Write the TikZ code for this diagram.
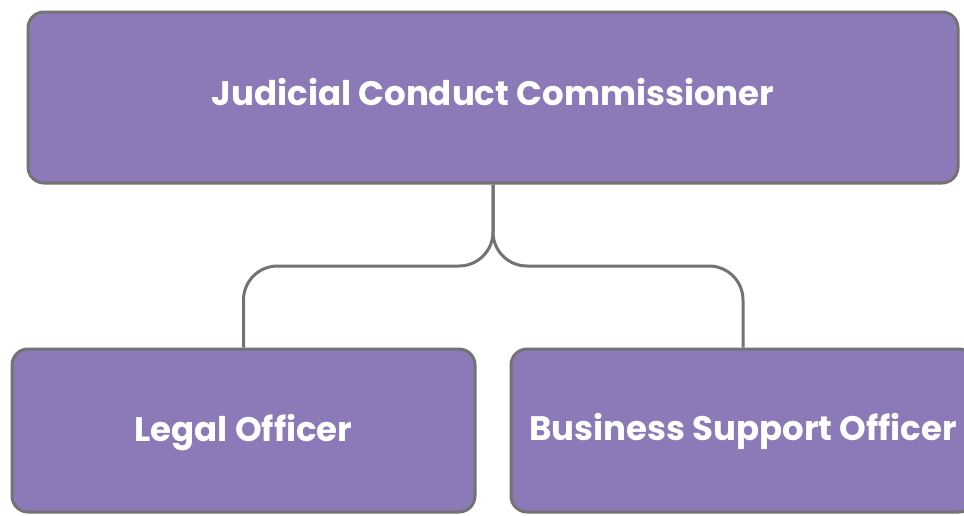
\documentclass[tikz,border=0pt]{standalone}
\usepackage{fontspec}
\setmainfont{Poppins}
\definecolor{boxfill}{HTML}{8C7AB8}
\definecolor{edge}{HTML}{737373}
\begin{document}
\begin{tikzpicture}[x=1pt,y=-1pt,
  orgbox/.style={draw=edge, line width=3pt, fill=boxfill, rounded corners=16pt,
    text=white, font=\bfseries\fontsize{34}{40}\selectfont, inner sep=0pt},
  lbl/.style={text=white, font=\bfseries\fontsize{34}{40}\selectfont, inner sep=0pt},
  link/.style={draw=edge, line width=3pt, rounded corners=34pt}]
\clip (0,0) rectangle (964,515);
\fill[white] (0,0) rectangle (964,515);
\node[orgbox, minimum width=930pt, minimum height=171pt] (top) at (493,97.5) {};
\node[lbl] (toplabel) at (493,92) {Judicial Conduct Commissioner};
\node[orgbox, minimum width=463pt, minimum height=163pt] (legal) at (243.5,430.5) {};
\node[lbl] (legallabel) at (243.5,433) {Legal Officer};
\node[orgbox, minimum width=464pt, minimum height=163pt] (bso) at (743,430.5) {};
\node[lbl] (bsolabel) at (743,431) {Business Support Officer};
\coordinate (mid) at (493,266);
\draw[link] (top.south) -- (mid) -- (legal.north |- mid) -- (legal.north);
\draw[link] (top.south) -- (mid) -- (bso.north |- mid) -- (bso.north);
\end{tikzpicture}
\end{document}
